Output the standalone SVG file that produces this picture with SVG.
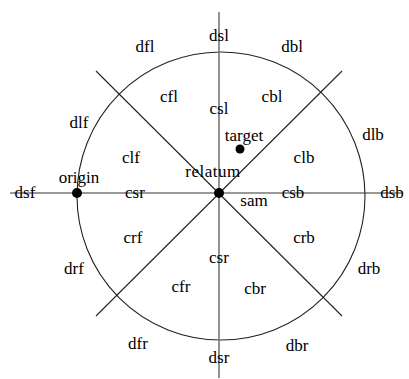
<svg xmlns="http://www.w3.org/2000/svg" width="409" height="379" viewBox="0 0 409 379">
<style>
text{font-family:"Liberation Serif","Times New Roman",serif;font-size:17px;fill:#000;text-anchor:middle}
.ln{stroke:#222;stroke-width:1.1;fill:none}
.ax{stroke:#777;stroke-width:1.6;fill:none}
.hx{stroke:#333;stroke-width:1.1;fill:none}
.dot{fill:#000}
</style>
<rect width="409" height="379" fill="#fff"/>
<g id="connectors">
<circle class="ln" cx="221" cy="196" r="144"/>
<line class="ln" x1="96" y1="71" x2="342" y2="316"/>
<line class="ln" x1="342" y1="71" x2="96" y2="316"/>
<line class="hx" x1="10" y1="193" x2="403" y2="193"/>
<line class="ax" x1="219" y1="12" x2="219" y2="378"/>
</g>
<g id="origin"><circle class="dot" cx="77" cy="193" r="5"/><text x="79" y="183">origin</text></g>
<g id="relatum"><circle class="dot" cx="219" cy="193" r="5"/><text x="213" y="177" letter-spacing="0.5">relatum</text></g>
<g id="target"><circle class="dot" cx="240" cy="149" r="4.5"/><text x="244" y="141">target</text></g>
<g id="labels">
<text x="219" y="41">dsl</text>
<text x="145" y="52">dfl</text>
<text x="292" y="52">dbl</text>
<text x="169" y="102">cfl</text>
<text x="219" y="114">csl</text>
<text x="272" y="102">cbl</text>
<text x="79" y="128">dlf</text>
<text x="373" y="140">dlb</text>
<text x="131" y="163">clf</text>
<text x="304" y="163">clb</text>
<text x="25" y="198">dsf</text>
<text x="135" y="198">csr</text>
<text x="293" y="198">csb</text>
<text x="392" y="198">dsb</text>
<text x="254" y="206">sam</text>
<text x="133" y="243">crf</text>
<text x="304" y="243">crb</text>
<text x="219" y="263">csr</text>
<text x="74" y="274">drf</text>
<text x="369" y="274">drb</text>
<text x="181" y="292">cfr</text>
<text x="255" y="294">cbr</text>
<text x="138" y="349">dfr</text>
<text x="297" y="351">dbr</text>
<text x="219" y="363">dsr</text>
</g>
</svg>
